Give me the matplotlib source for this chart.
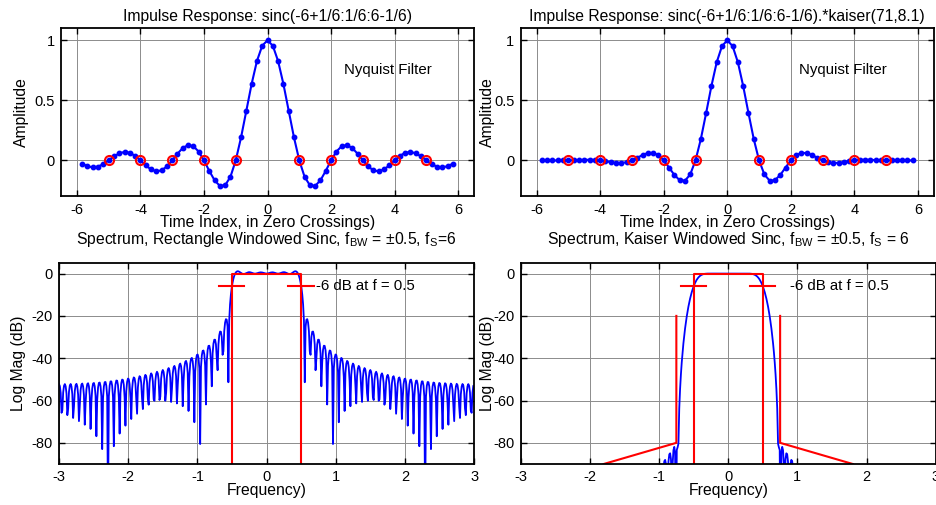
import numpy as np
import matplotlib
matplotlib.use('Agg')
import matplotlib.pyplot as plt

plt.rcParams['font.family'] = ['Liberation Sans', 'DejaVu Sans']
plt.rcParams['font.size'] = 10.5
plt.rcParams['axes.unicode_minus'] = False

# time index of each tap, in zero crossings (-35/6 ... 35/6)
tap_index = np.arange(-35, 36) / 6

# sinc(-6+1/6:1/6:6-1/6), rectangle window
h_rect = [
    -0.02728, -0.04865, -0.05787, -0.05169, -0.03080, 0.0,
    0.03293, 0.05907, 0.07074, 0.06361, 0.03820, 0.0,
    -0.04152, -0.07518, -0.09095, -0.08270, -0.05026, 0.0,
    0.05617, 0.10337, 0.12732, 0.11814, 0.07346, 0.0,
    -0.08681, -0.16540, -0.21221, -0.20675, -0.13642, 0.0,
    0.19099, 0.41350, 0.63662, 0.82699, 0.95493,
    1.00000,
    0.95493, 0.82699, 0.63662, 0.41350, 0.19099,
    0.0, -0.13642, -0.20675, -0.21221, -0.16540, -0.08681,
    0.0, 0.07346, 0.11814, 0.12732, 0.10337, 0.05617,
    0.0, -0.05026, -0.08270, -0.09095, -0.07518, -0.04152,
    0.0, 0.03820, 0.06361, 0.07074, 0.05907, 0.03293,
    0.0, -0.03080, -0.05169, -0.05787, -0.04865, -0.02728]

# sinc(...).*kaiser(71,8.1)
h_kaiser = [
    -0.000058, -0.000224, -0.000473, -0.000677, -0.000604, 0.0,
    0.001264, 0.003025, 0.004711, 0.005394, 0.004047, 0.0,
    -0.006547, -0.014163, -0.020215, -0.021441, -0.015037, 0.0,
    0.021729, 0.044849, 0.061425, 0.062859, 0.042765, 0.0,
    -0.059161, -0.120636, -0.164500, -0.169182, -0.117056, 0.0,
    0.176701, 0.393461, 0.619103, 0.816811, 0.951978,
    1.000000,
    0.951978, 0.816811, 0.619103, 0.393461, 0.176701,
    0.0, -0.117056, -0.169182, -0.164500, -0.120636, -0.059161,
    0.0, 0.042765, 0.062859, 0.061425, 0.044849, 0.021729,
    0.0, -0.015037, -0.021441, -0.020215, -0.014163, -0.006547,
    0.0, 0.004047, 0.005394, 0.004711, 0.003025, 0.001264,
    0.0, -0.000604, -0.000677, -0.000473, -0.000224, -0.000058]

# zero crossings marked with red circles
zero_x = [-5, -4, -3, -2, -1, 1, 2, 3, 4, 5]
zero_y = [0] * len(zero_x)

fs = 6
nfft = 500
band_edge = 0.5

# spectrum mask lines
edge_x = [-band_edge, -band_edge, band_edge, band_edge]
edge_y = [-95, 0, 0, -95]
mark_l = [-0.69, -0.32]
mark_r = [0.31, 0.68]
mark_y = [-6, -6]
stop_l_x = [-1.8, -0.75, -0.75]
stop_r_x = [1.8, 0.75, 0.75]
stop_y = [-90, -80, -20]

label_size = 11.3


def spectrum_db(h):
    H = np.fft.fftshift(np.fft.fft(h, nfft))
    f = (np.arange(nfft) - nfft // 2) * fs / nfft
    mag = np.abs(H) / np.abs(H[nfft // 2])
    return f, 20 * np.log10(np.maximum(mag, 1e-12))


def style(ax):
    ax.grid(True, color='0.55', lw=0.7)
    ax.set_axisbelow(True)
    ax.tick_params(direction='in', top=True, right=True, length=4, width=1, pad=4.5)
    for s in ax.spines.values():
        s.set_linewidth(1.3)


fig = plt.figure(figsize=(9.37, 5.05), dpi=100)
ax1 = fig.add_axes([0.0651, 0.6110, 0.4408, 0.3330])
ax2 = fig.add_axes([0.5557, 0.6110, 0.4410, 0.3330])
ax3 = fig.add_axes([0.0630, 0.0812, 0.4430, 0.3980])
ax4 = fig.add_axes([0.5557, 0.0812, 0.4430, 0.3980])

# impulse responses
for ax, h, title, txt_x, pad in [
        (ax1, h_rect, 'Impulse Response: sinc(-6+1/6:1/6:6-1/6)', 2.41, 4),
        (ax2, h_kaiser, 'Impulse Response: sinc(-6+1/6:1/6:6-1/6).*kaiser(71,8.1)', 2.27, -1)]:
    style(ax)
    ax.plot(tap_index, h, '-o', color='b', lw=1.5, ms=3.2, mec='b', mfc='b')
    ax.plot(zero_x, zero_y, 'o', ms=6.5, mfc='none', mec='r', mew=1.5)
    ax.set_xlim(-6.5, 6.5)
    ax.set_ylim(-0.3, 1.1)
    ax.set_xticks([-6, -4, -2, 0, 2, 4, 6])
    ax.set_yticks([0, 0.5, 1], ['0', '0.5', '1'])
    ax.text(txt_x, 0.75, 'Nyquist Filter', va='center', fontsize=10.8)
    ax.set_title(title, pad=5, fontsize=label_size)
    ax.set_xlabel('Time Index, in Zero Crossings)', labelpad=-1, fontsize=label_size)
    ax.set_ylabel('Amplitude', labelpad=pad, fontsize=label_size)

# spectra
f, mag_rect = spectrum_db(h_rect)
f, mag_kaiser = spectrum_db(h_kaiser)

ax3.plot(f, mag_rect, color='b', lw=1.3)
ax4.plot(f, mag_kaiser, color='b', lw=1.3)
ax4.plot(stop_l_x, stop_y, color='r', lw=1.5)
ax4.plot(stop_r_x, stop_y, color='r', lw=1.5)

for ax, title, txt_x, pad in [
        (ax3, r'Spectrum, Rectangle Windowed Sinc, f$_{\mathregular{BW}}$ = ±0.5, f$_{\mathregular{S}}$=6', 0.71, 4),
        (ax4, r'Spectrum, Kaiser Windowed Sinc, f$_{\mathregular{BW}}$ = ±0.5, f$_{\mathregular{S}}$ = 6', 0.89, -1)]:
    style(ax)
    ax.plot(edge_x, edge_y, color='r', lw=1.5)
    ax.plot(mark_l, mark_y, color='r', lw=1.5)
    ax.plot(mark_r, mark_y, color='r', lw=1.5)
    ax.set_xlim(-3, 3)
    ax.set_ylim(-90, 5)
    ax.set_xticks(range(-3, 4))
    ax.set_yticks(range(-80, 1, 20))
    ax.text(txt_x, -6, '-6 dB at f = 0.5', va='center', fontsize=10.8)
    ax.set_title(title, pad=14, fontsize=label_size)
    ax.set_xlabel('Frequency)', labelpad=-1, fontsize=label_size)
    ax.set_ylabel('Log Mag (dB)', labelpad=pad, fontsize=label_size)

fig.savefig('out.png', dpi=100)
